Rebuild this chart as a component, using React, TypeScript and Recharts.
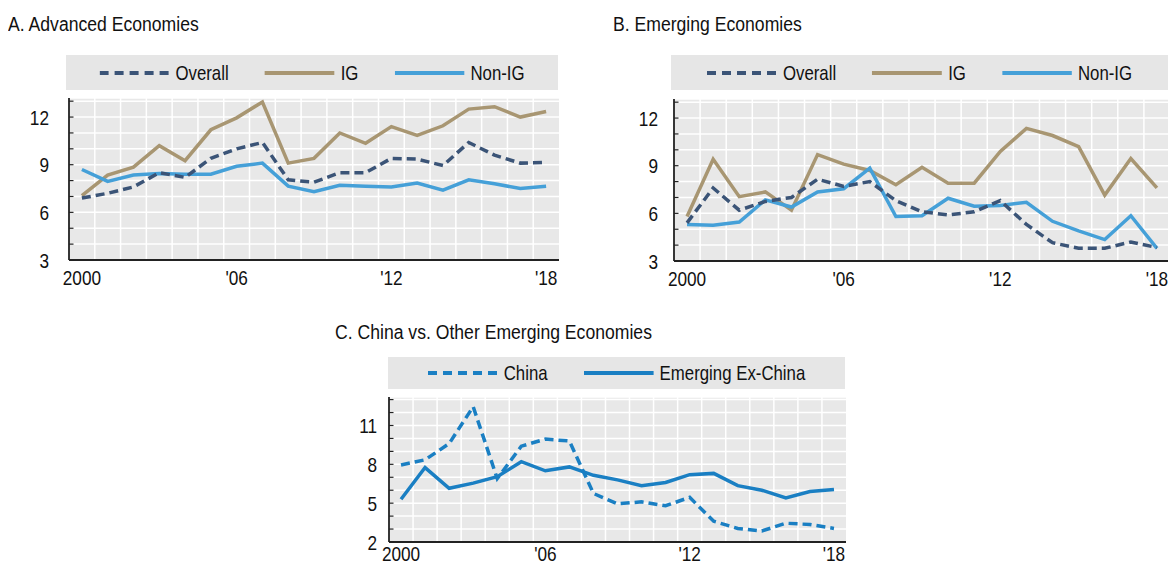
import React from 'react';
import { LineChart, Line, XAxis, YAxis, CartesianGrid } from 'recharts';

// 2000..2018
const years = [2000, 2001, 2002, 2003, 2004, 2005, 2006, 2007, 2008, 2009, 2010, 2011, 2012, 2013, 2014, 2015, 2016, 2017, 2018];
const xTicks = [2000, 2006, 2012, 2018];

// A. Advanced economies
const advOverall = [6.9, 7.2, 7.6, 8.5, 8.2, 9.4, 10.0, 10.4, 8.05, 7.9, 8.5, 8.5, 9.4, 9.35, 8.95, 10.4, 9.6, 9.1, 9.15];
const advIG = [7.05, 8.35, 8.85, 10.2, 9.25, 11.2, 11.95, 12.95, 9.1, 9.4, 11.0, 10.35, 11.4, 10.85, 11.45, 12.5, 12.65, 12.0, 12.35];
const advNonIG = [8.7, 7.95, 8.35, 8.45, 8.4, 8.4, 8.9, 9.1, 7.65, 7.3, 7.7, 7.65, 7.6, 7.85, 7.4, 8.05, 7.8, 7.5, 7.65];

// B. Emerging economies
const emOverall = [5.4, 7.6, 6.2, 6.75, 7.0, 8.15, 7.7, 8.0, 6.8, 6.1, 5.9, 6.1, 6.8, 5.3, 4.15, 3.8, 3.8, 4.2, 3.85];
const emIG = [5.8, 9.4, 7.05, 7.35, 6.2, 9.7, 9.1, 8.7, 7.8, 8.9, 7.9, 7.9, 9.9, 11.35, 10.9, 10.2, 7.15, 9.45, 7.6];
const emNonIG = [5.3, 5.25, 5.45, 6.85, 6.4, 7.35, 7.55, 8.85, 5.8, 5.85, 6.95, 6.45, 6.5, 6.7, 5.5, 4.9, 4.35, 5.85, 3.8];

// C. China vs. other emerging
const china = [7.95, 8.35, 9.6, 12.45, 6.9, 9.4, 9.95, 9.8, 5.75, 4.95, 5.1, 4.8, 5.45, 3.6, 3.05, 2.85, 3.45, 3.35, 3.05];
const exChina = [5.3, 7.75, 6.15, 6.55, 7.05, 8.2, 7.5, 7.8, 7.15, 6.8, 6.35, 6.6, 7.2, 7.3, 6.35, 6.0, 5.4, 5.9, 6.05];

const yTicksAB = [3, 4, 5, 6, 7, 8, 9, 10, 11, 12, 13];
const yTicksC = [2, 3, 4, 5, 6, 7, 8, 9, 10, 11, 12, 13];

const FONT = "'Liberation Sans', Arial, sans-serif";
const NARROW = 0.82; // the source uses a narrow face
const NAVY = '#3b5477';
const TAN = '#a89672';
const LIGHTBLUE = '#45a0d8';
const BLUE = '#1a7fc3';
const DASH = '9 5';

const rowsAB = (a: number[], b: number[], c: number[]) =>
  years.map((year, i) => ({ year, overall: a[i], ig: b[i], nonig: c[i] }));
const advData = rowsAB(advOverall, advIG, advNonIG);
const emData = rowsAB(emOverall, emIG, emNonIG);
const chinaData = years.map((year, i) => ({ year, china: china[i], exChina: exChina[i] }));

// grid lines sit between the years
const boundaries = years.slice(1).map(y => y - 0.5);

const fmtYear = (v: number) => (v === 2000 ? '2000' : "'" + String(v).slice(2));

const YTick = (props: any) => {
  const { x, y, payload, gap, every } = props;
  const v = payload.value;
  return (
    <g>
      <line x1={x + gap} x2={x + gap + 4.5} y1={y} y2={y} stroke="#222" strokeWidth={1.2} />
      {(v - every.base) % every.step === 0 && (
        <text transform={`translate(${x},${y}) scale(${NARROW},1)`} dy="0.36em" textAnchor="end" fontSize={21} fill="#111" fontFamily={FONT}>
          {v}
        </text>
      )}
    </g>
  );
};

const XTick = (props: any) => {
  const { x, y, payload } = props;
  return (
    <text transform={`translate(${x},${y}) scale(${NARROW},1)`} dy="0.71em" textAnchor="middle" fontSize={21} fill="#111" fontFamily={FONT}>
      {fmtYear(payload.value)}
    </text>
  );
};

type Item = { name: string; color: string; dash?: string };

const LegendBox = ({ left, top, width, height, items }: { left: number; top: number; width: number; height: number; items: Item[] }) => {
  const k = 0.8;
  return (
    <div style={{ position: 'absolute', left, top, width, height, background: '#e6e6e6', overflow: 'hidden' }}>
      <div
        style={{
          width: width / k, height, transform: `scaleX(${k})`, transformOrigin: 'left top',
          display: 'flex', alignItems: 'center', justifyContent: 'center', gap: 36 / k,
          fontFamily: FONT, fontSize: 21, color: '#111',
        }}
      >
        {items.map(it => (
          <div key={it.name} style={{ display: 'flex', alignItems: 'center', gap: 6 / k }}>
            <svg width={70 / k} height={10}>
              <line x1={0} x2={70 / k} y1={5} y2={5} stroke={it.color} strokeWidth={4}
                strokeDasharray={it.dash ? `${9 / k} ${6 / k}` : undefined} />
            </svg>
            <span>{it.name}</span>
          </div>
        ))}
      </div>
    </div>
  );
};

const Title = ({ left, top, text }: { left: number; top: number; text: string }) => (
  <div style={{
    position: 'absolute', left, top, fontFamily: FONT, fontSize: 20, lineHeight: '20px', color: '#111',
    whiteSpace: 'nowrap', transform: 'scaleX(0.88)', transformOrigin: 'left top',
  }}>
    {text}
  </div>
);

const abItems: Item[] = [
  { name: 'Overall', color: NAVY, dash: DASH },
  { name: 'IG', color: TAN },
  { name: 'Non-IG', color: LIGHTBLUE },
];

const PanelAB = ({ data, left, top, width, height, yWidth, marginTop, marginRight, gap }: any) => (
  <div style={{ position: 'absolute', left, top }}>
    <LineChart width={width} height={height} data={data} margin={{ top: marginTop, right: marginRight, bottom: 0, left: 0 }}>
      <CartesianGrid fill="#e8e8e8" fillOpacity={1} stroke="#ffffff" strokeWidth={1.5} verticalValues={boundaries} />
      <XAxis
        dataKey="year" type="number" domain={[1999.5, 2018.5]} ticks={xTicks} interval={0}
        tickLine={false} tickSize={0} tickMargin={10} height={30}
        axisLine={{ stroke: '#222', strokeWidth: 1.8 }}
        tick={(p: any) => <XTick {...p} />}
      />
      <YAxis
        type="number" domain={[3, 13.2]} ticks={yTicksAB} interval={0} width={yWidth}
        tickLine={false} tickSize={0} tickMargin={gap} allowDataOverflow
        axisLine={{ stroke: '#222', strokeWidth: 1.8 }}
        tick={(p: any) => <YTick {...p} gap={gap} every={{ base: 3, step: 3 }} />}
      />
      <Line dataKey="ig" stroke={TAN} strokeWidth={3.5} dot={false} isAnimationActive={false} />
      <Line dataKey="nonig" stroke={LIGHTBLUE} strokeWidth={3.5} dot={false} isAnimationActive={false} />
      <Line dataKey="overall" stroke={NAVY} strokeWidth={3.5} strokeDasharray={DASH} dot={false} isAnimationActive={false} />
    </LineChart>
  </div>
);

export default function App() {
  return (
    <div style={{ position: 'absolute', left: 0, top: 0, width: 1168, height: 566, overflow: 'hidden', background: '#fff' }}>
      <Title left={8} top={14} text="A. Advanced Economies" />
      <LegendBox left={66} top={55} width={492} height={35} items={abItems} />
      <PanelAB data={advData} left={0} top={90} width={570} height={200} yWidth={69} marginTop={8} marginRight={11} gap={20} />

      <Title left={613} top={14} text="B. Emerging Economies" />
      <LegendBox left={671} top={55} width={497} height={35} items={abItems} />
      <PanelAB data={emData} left={600} top={90} width={570} height={201} yWidth={74} marginTop={9} marginRight={0} gap={16} />

      <Title left={335} top={322} text="C. China vs. Other Emerging Economies" />
      <LegendBox
        left={388} top={357} width={457} height={32}
        items={[{ name: 'China', color: BLUE, dash: DASH }, { name: 'Emerging Ex-China', color: BLUE }]}
      />
      <div style={{ position: 'absolute', left: 330, top: 380 }}>
        <LineChart width={516} height={186} data={chinaData} margin={{ top: 17, right: 0, bottom: 0, left: 0 }}>
          <CartesianGrid fill="#e8e8e8" fillOpacity={1} stroke="#ffffff" strokeWidth={1.5} verticalValues={boundaries} />
          <XAxis
            dataKey="year" type="number" domain={[1999.5, 2018.5]} ticks={xTicks} interval={0}
            tickLine={false} tickSize={0} tickMargin={4} height={24}
            axisLine={{ stroke: '#222', strokeWidth: 1.8 }}
            tick={(p: any) => <XTick {...p} />}
          />
          <YAxis
            type="number" domain={[2, 13.2]} ticks={yTicksC} interval={0} width={59}
            tickLine={false} tickSize={0} tickMargin={12} allowDataOverflow
            axisLine={{ stroke: '#222', strokeWidth: 1.8 }}
            tick={(p: any) => <YTick {...p} gap={12} every={{ base: 2, step: 3 }} />}
          />
          <Line dataKey="exChina" stroke={BLUE} strokeWidth={3.5} dot={false} isAnimationActive={false} />
          <Line dataKey="china" stroke={BLUE} strokeWidth={3.5} strokeDasharray={DASH} dot={false} isAnimationActive={false} />
        </LineChart>
      </div>
    </div>
  );
}
